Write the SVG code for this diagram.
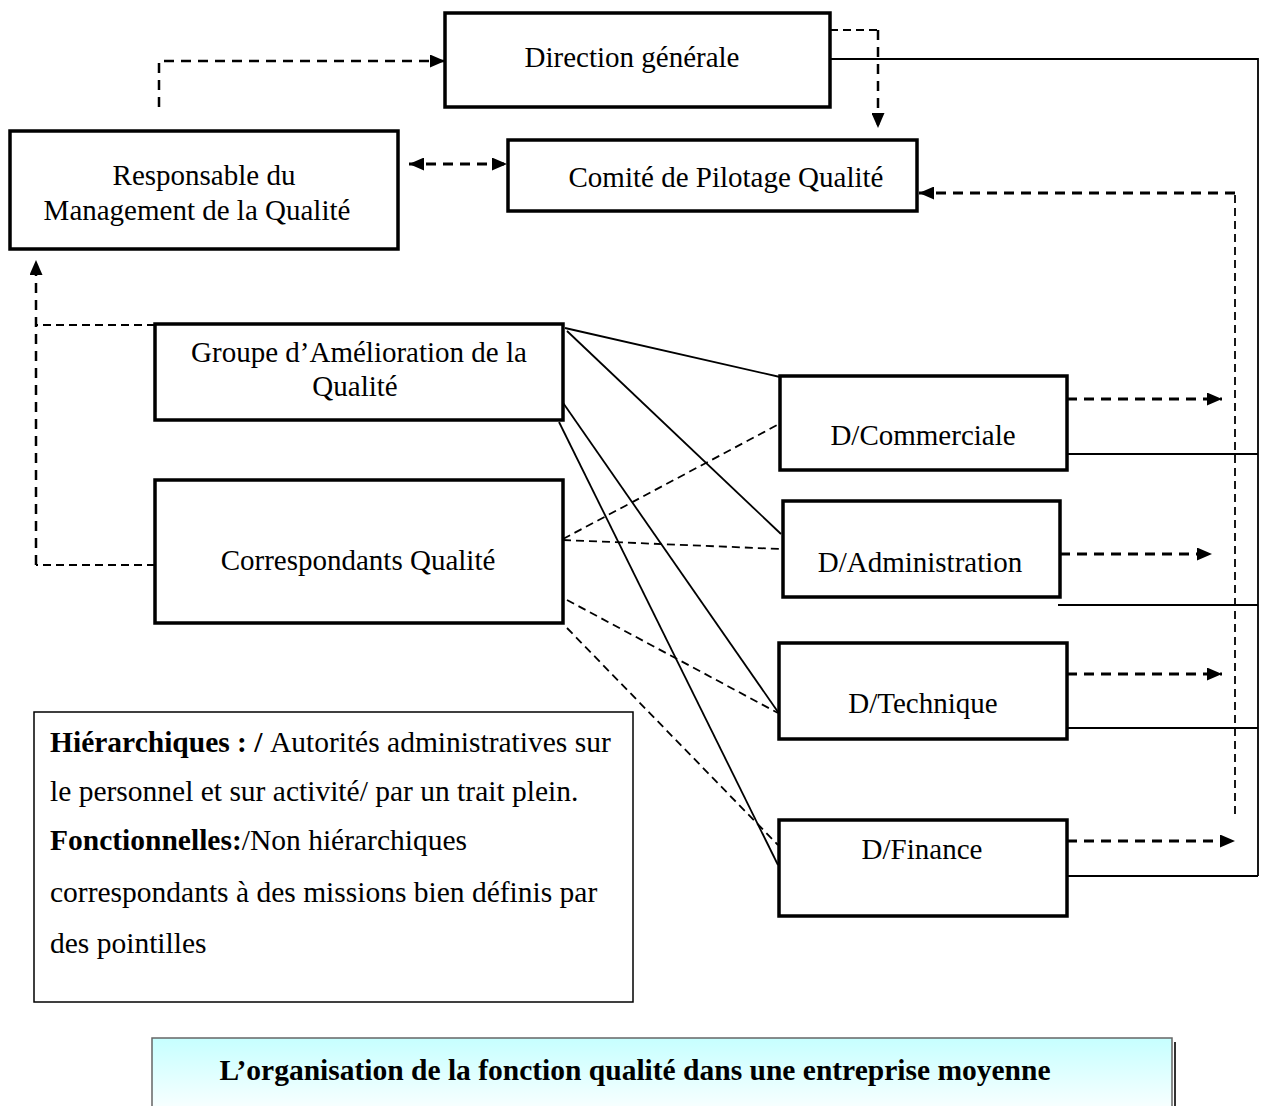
<svg xmlns="http://www.w3.org/2000/svg" width="1263" height="1106" viewBox="0 0 1263 1106">
<style>
.box{fill:#fff;stroke:#000;stroke-width:3.5}
.lbl{font-family:"Liberation Serif","Times New Roman",serif;font-size:29px;fill:#000;text-anchor:middle}
.leg{font-family:"Liberation Serif","Times New Roman",serif;font-size:29.5px;fill:#000}
.solid{fill:none;stroke:#000;stroke-width:1.8}
.dthick{fill:none;stroke:#000;stroke-width:3;stroke-dasharray:10 7}
.dthin{fill:none;stroke:#000;stroke-width:1.8;stroke-dasharray:8 5}
.dmid{fill:none;stroke:#000;stroke-width:2.5;stroke-dasharray:10 7}
</style>
<defs>
<marker id="ah" viewBox="0 0 15 13" refX="15" refY="6.5" markerWidth="15" markerHeight="13" markerUnits="userSpaceOnUse" orient="auto-start-reverse"><path d="M0,0 L15,6.5 L0,13 z" fill="#000"/></marker>
<linearGradient id="cap" x1="0" y1="0" x2="0" y2="1"><stop offset="0" stop-color="#c6ffff"/><stop offset="1" stop-color="#ffffff"/></linearGradient>
</defs>

<g id="connectors">
<path class="dmid" d="M159,107 V61 H445" marker-end="url(#ah)"/>
<path class="dthin" d="M830,30 H878"/>
<path class="dmid" d="M878,30 V128" marker-end="url(#ah)"/>
<path class="solid" d="M830,59 H1258 V876"/>
<path class="dthick" d="M409,164 H507" marker-start="url(#ah)" marker-end="url(#ah)"/>
<path class="dthin" d="M1235,814 V193"/>
<path class="dthick" d="M1235,193 H919" marker-end="url(#ah)"/>
<path class="dthick" d="M1067,399 H1222" marker-end="url(#ah)"/>
<path class="dthick" d="M1060,554 H1212" marker-end="url(#ah)"/>
<path class="dthick" d="M1067,674 H1222" marker-end="url(#ah)"/>
<path class="dthick" d="M1067,841 H1235" marker-end="url(#ah)"/>
<path class="solid" d="M1067,454 H1258"/>
<path class="solid" d="M1058,605 H1258"/>
<path class="solid" d="M1067,728 H1258"/>
<path class="solid" d="M1067,876 H1258"/>
<path class="dthin" d="M155,325 H36"/>
<path class="dthin" d="M155,565 H36"/>
<path class="dmid" d="M36,565 V260" marker-end="url(#ah)"/>
<path class="solid" d="M565,328 L780,377"/>
<path class="solid" d="M567,331 L781,534"/>
<path class="solid" d="M559,397 L778,712"/>
<path class="solid" d="M559,422 L778,865"/>
<path class="dthin" d="M563,539 L781,423"/>
<path class="dthin" d="M563,540 L781,549"/>
<path class="dthin" d="M567,600 L778,713"/>
<path class="dthin" d="M567,628 L778,845"/>
</g>

<g id="direction"><rect class="box" x="445" y="13" width="385" height="94"/><text class="lbl" x="632" y="67">Direction générale</text></g>
<g id="comite"><rect class="box" x="508" y="140" width="409" height="71"/><text class="lbl" x="726" y="187">Comité de Pilotage Qualité</text></g>
<g id="responsable"><rect class="box" x="10" y="131" width="388" height="118"/><text class="lbl" x="204" y="185">Responsable du</text><text class="lbl" x="197" y="220">Management de la Qualité</text></g>
<g id="groupe"><rect class="box" x="155" y="324" width="408" height="96"/><text class="lbl" x="359" y="362">Groupe d’Amélioration de la</text><text class="lbl" x="355" y="396">Qualité</text></g>
<g id="correspondants"><rect class="box" x="155" y="480" width="408" height="143"/><text class="lbl" x="358" y="570">Correspondants Qualité</text></g>
<g id="commerciale"><rect class="box" x="780" y="376" width="287" height="94"/><text class="lbl" x="923" y="445">D/Commerciale</text></g>
<g id="administration"><rect class="box" x="783" y="501" width="277" height="96"/><text class="lbl" x="920" y="572">D/Administration</text></g>
<g id="technique"><rect class="box" x="779" y="643" width="288" height="96"/><text class="lbl" x="923" y="713">D/Technique</text></g>
<g id="finance"><rect class="box" x="779" y="820" width="288" height="96"/><text class="lbl" x="922" y="859">D/Finance</text></g>

<g id="legend">
<rect x="34" y="712" width="599" height="290" fill="#fff" stroke="#000" stroke-width="1.5"/>
<text class="leg" x="50" y="752"><tspan font-weight="bold">Hiérarchiques : / </tspan>Autorités administratives sur</text>
<text class="leg" x="50" y="801">le personnel et sur activité/ par un trait plein.</text>
<text class="leg" x="50" y="850"><tspan font-weight="bold">Fonctionnelles:</tspan>/Non hiérarchiques</text>
<text class="leg" x="50" y="902">correspondants à des missions bien définis par</text>
<text class="leg" x="50" y="953">des pointilles</text>
</g>

<g id="caption">
<rect x="152" y="1038" width="1020" height="80" fill="url(#cap)" stroke="#666" stroke-width="1.5"/>
<path d="M1175,1042 V1106" stroke="#333" stroke-width="2" fill="none"/>
<text x="635" y="1080" font-family="Liberation Serif,'Times New Roman',serif" font-size="29.5" font-weight="bold" text-anchor="middle">L’organisation de la fonction qualité dans une entreprise moyenne</text>
</g>
</svg>
